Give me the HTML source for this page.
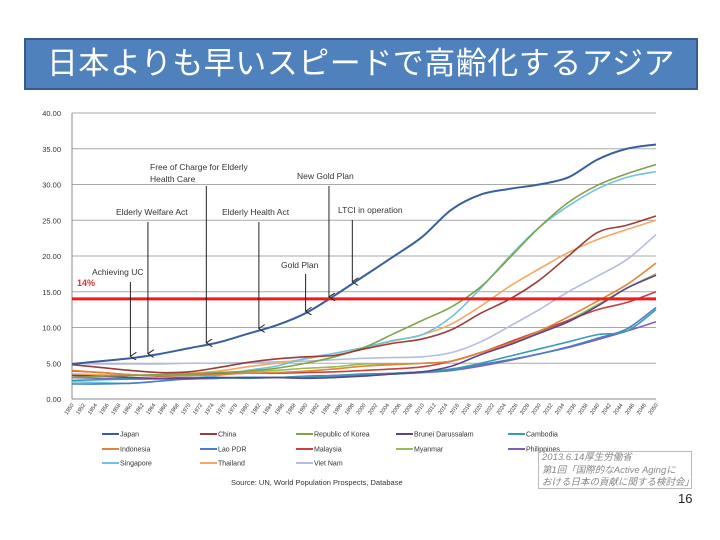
<!DOCTYPE html>
<html><head><meta charset="utf-8">
<style>
body{margin:0;background:#fff;width:720px;height:540px;overflow:hidden;font-family:"Liberation Sans","Noto Sans CJK JP",sans-serif;}
#title{position:absolute;left:24px;top:38px;width:670px;height:48px;background:#4f81bd;border:2px solid #385d8a;color:#fff;font-size:31px;line-height:48px;text-align:center;letter-spacing:0.5px;}
svg{position:absolute;left:0;top:0}
#note{position:absolute;left:538px;top:451px;width:154px;height:38px;border:1px solid #bbb;font-size:9.5px;color:#888;font-style:italic;line-height:12.5px;padding-left:3px;box-sizing:border-box}
#page{position:absolute;left:678px;top:491px;font-size:13px;color:#222}
</style></head><body>
<div id="title">日本よりも早いスピードで高齢化するアジア</div>
<svg id="chart" width="720" height="540"></svg>
<div id="note">2013.6.14厚生労働省<br>第1回「国際的なActive Agingに<br>おける日本の貢献に関する検討会」</div>
<div id="page">16</div>
<script>
const years=[1950,1955,1960,1965,1970,1975,1980,1985,1990,1995,2000,2005,2010,2015,2020,2025,2030,2035,2040,2045,2050];
const yTicks=[0,5,10,15,20,25,30,35,40];
const seriesNames=["Japan","China","Republic of Korea","Brunei Darussalam","Cambodia","Indonesia","Lao PDR","Malaysia","Myanmar","Philippines","Singapore","Thailand","Viet Nam"];
const seriesColors=["#3a5f9e","#9b3b3b","#7fa24a","#5e4589","#3a9bb0","#e0853a","#4a7fc4","#c8403f","#98bb55","#7f5fb5","#6fc3dc","#f5a860","#b5bde0"];
const japan=[4.9,5.3,5.7,6.3,7.1,7.9,9.1,10.3,12.0,14.5,17.2,19.9,22.7,26.5,28.6,29.4,30.0,31.0,33.5,35.0,35.6];
const china=[4.8,4.4,4.0,3.7,3.8,4.4,5.1,5.6,5.9,6.1,7.0,7.8,8.4,9.7,12.0,14.0,16.6,20.0,23.3,24.3,25.6];
const korea=[3.0,3.2,3.3,3.4,3.5,3.7,3.9,4.3,5.0,5.9,7.2,9.1,11.0,12.9,15.7,19.8,24.0,27.5,29.9,31.5,32.8];
const brunei=[3.3,3.2,3.0,2.9,2.9,3.0,3.0,3.0,2.9,3.0,3.2,3.5,3.8,4.6,6.2,7.6,9.2,10.8,13.0,15.5,17.3];
const cambodia=[2.6,2.7,2.8,2.9,3.0,3.0,2.9,3.0,3.1,3.3,3.5,3.6,3.8,4.2,5.0,6.0,7.0,8.0,9.0,9.5,12.5];
const indonesia=[4.0,3.7,3.4,3.3,3.3,3.4,3.6,3.7,3.9,4.2,4.6,4.8,5.0,5.3,6.5,7.8,9.5,11.5,13.7,16.0,19.0];
const lao=[2.1,2.1,2.2,2.5,2.8,2.9,3.0,3.0,3.1,3.2,3.3,3.5,3.7,4.0,4.8,5.5,6.3,7.3,8.5,9.8,12.8];
const malaysia=[3.9,3.7,3.4,3.2,3.3,3.5,3.6,3.6,3.7,3.8,4.0,4.2,4.5,5.3,6.5,8.0,9.5,11.0,12.5,13.5,15.0];
const myanmar=[3.0,3.2,3.3,3.3,3.5,3.7,3.8,4.0,4.3,4.5,4.9,4.9,5.0,5.3,6.5,7.8,9.3,11.0,13.2,15.5,17.5];
const philippines=[3.0,2.9,2.8,2.8,2.8,2.9,3.0,3.0,3.2,3.3,3.4,3.6,3.8,4.0,4.6,5.4,6.3,7.2,8.3,9.5,10.8];
const singapore=[2.4,2.3,2.2,2.5,2.9,3.3,4.0,4.6,5.7,6.4,7.2,8.2,9.0,11.5,15.5,20.0,24.0,27.0,29.4,31.0,31.8];
const thailand=[3.5,3.4,3.3,3.4,3.6,3.9,4.5,5.0,5.6,6.4,7.2,8.1,9.0,10.5,13.0,15.8,18.2,20.5,22.3,23.7,25.0];
const vietnam=[5.0,4.9,4.9,4.9,5.0,5.0,5.1,5.2,5.3,5.5,5.7,5.8,5.9,6.5,8.0,10.2,12.5,15.0,17.2,19.5,23.0];
const seriesData=[japan,china,korea,brunei,cambodia,indonesia,lao,malaysia,myanmar,philippines,singapore,thailand,vietnam];
const threshold=14;
const annotations=[
 {lines:["Free of Charge for Elderly","Health Care"],year:1973,tx:150,ty:170,top:186},
 {lines:["Elderly Welfare Act"],year:1963,tx:116,ty:215,top:222},
 {lines:["Elderly Health Act"],year:1982,tx:222,ty:215,top:222},
 {lines:["New Gold Plan"],year:1994,tx:297,ty:179,top:186},
 {lines:["LTCI in operation"],year:1998,tx:338,ty:213,top:220},
 {lines:["Gold Plan"],year:1990,tx:281,ty:268,top:274},
 {lines:["Achieving UC"],year:1960,tx:92,ty:275,top:282}
];
const NS="http://www.w3.org/2000/svg";
const svg=document.getElementById('chart');
const X0=72,X1=656,Y0=399,Y1=113;
const xs=y=>X0+(y-1950)/100*(X1-X0);
const ys=v=>Y0-v/40*(Y0-Y1);
function mk(t,a,p){const e=document.createElementNS(NS,t);for(const k in a)e.setAttribute(k,a[k]);(p||svg).appendChild(e);return e;}
function interp(arr,yr){const i=Math.min(Math.floor((yr-1950)/5),19);const f=(yr-1950-i*5)/5;return arr[i]+(arr[i+1]-arr[i])*f;}
yTicks.forEach(v=>{
 const l=mk('line',{x1:X0,x2:X1,y1:ys(v),y2:ys(v),stroke:v===0?'#888':'#aaa','stroke-width':1});
 
 
 const t=mk('text',{x:X0-11,y:ys(v)+3,'text-anchor':'end','font-size':7.5,fill:'#333'});
 t.textContent=v.toFixed(2);
 
 
});
mk('line',{x1:X0,x2:X0,y1:Y1,y2:Y0,stroke:'#888'});
for(let yr=1950;yr<=2050;yr+=2){
 const x=xs(yr);
 const t=mk('text',{x:x+2,y:Y0+6,'text-anchor':'end','font-size':5.5,fill:'#333',transform:`rotate(-55 ${x+2} ${Y0+6})`});
 t.textContent=yr;
 
 
}
function pathFor(arr){
 const pts=arr.map((v,i)=>[xs(years[i]),ys(v)]);
 let d=`M${pts[0][0]},${pts[0][1]}`;
 for(let i=0;i<pts.length-1;i++){
  const p0=pts[Math.max(i-1,0)],p1=pts[i],p2=pts[i+1],p3=pts[Math.min(i+2,pts.length-1)];
  d+=` C${p1[0]+(p2[0]-p0[0])/6},${p1[1]+(p2[1]-p0[1])/6} ${p2[0]-(p3[0]-p1[0])/6},${p2[1]-(p3[1]-p1[1])/6} ${p2[0]},${p2[1]}`;
 }
 return d;
}
for(let s=seriesData.length-1;s>=0;s--){
 const p=mk('path',{d:pathFor(seriesData[s]),fill:'none',stroke:seriesColors[s],'stroke-width':s===0?2:1.6});
 
 
}
const th=mk('line',{x1:X0,x2:X1,y1:ys(threshold),y2:ys(threshold),stroke:'#ee1c1c','stroke-width':3});


const tl=mk('text',{x:77,y:ys(threshold)-13,'font-size':9,'font-weight':'bold',fill:'#e03030'});
tl.textContent=threshold+'%';


mk('defs',{}).innerHTML='<marker id="ah" markerWidth="8" markerHeight="8" refX="4" refY="7" orient="auto" markerUnits="userSpaceOnUse"><path d="M0,1 L4,7 L8,1" fill="none" stroke="#222" stroke-width="1"/></marker>';
annotations.forEach(a=>{
 a.lines.forEach((ln,i)=>{
  const t=mk('text',{x:a.tx,y:a.ty+i*12,'font-size':8.5,fill:'#333'});
  t.textContent=ln;
  
  
 });
 const x=xs(a.year);
 const l=mk('line',{x1:x,x2:x,y1:a.top,y2:ys(interp(japan,a.year))-2,stroke:'#222','stroke-width':1,'marker-end':'url(#ah)'});
 
 
});
const legX=[102,200,296,396,508],legY=[434,449,463];
seriesNames.forEach((n,i)=>{
 const x=legX[i%5],y=legY[Math.floor(i/5)];
 const g=mk('g',{});
 
 
 mk('line',{x1:x,x2:x+17,y1:y,y2:y,stroke:seriesColors[i],'stroke-width':2},g);
 const t=mk('text',{x:x+18,y:y+2.5,'font-size':7,fill:'#333'},g);t.textContent=n;
});
const src=mk('text',{x:231,y:485,'font-size':7.5,fill:'#333'});
src.textContent='Source: UN, World Population Prospects, Database';


</script>
</body></html>
